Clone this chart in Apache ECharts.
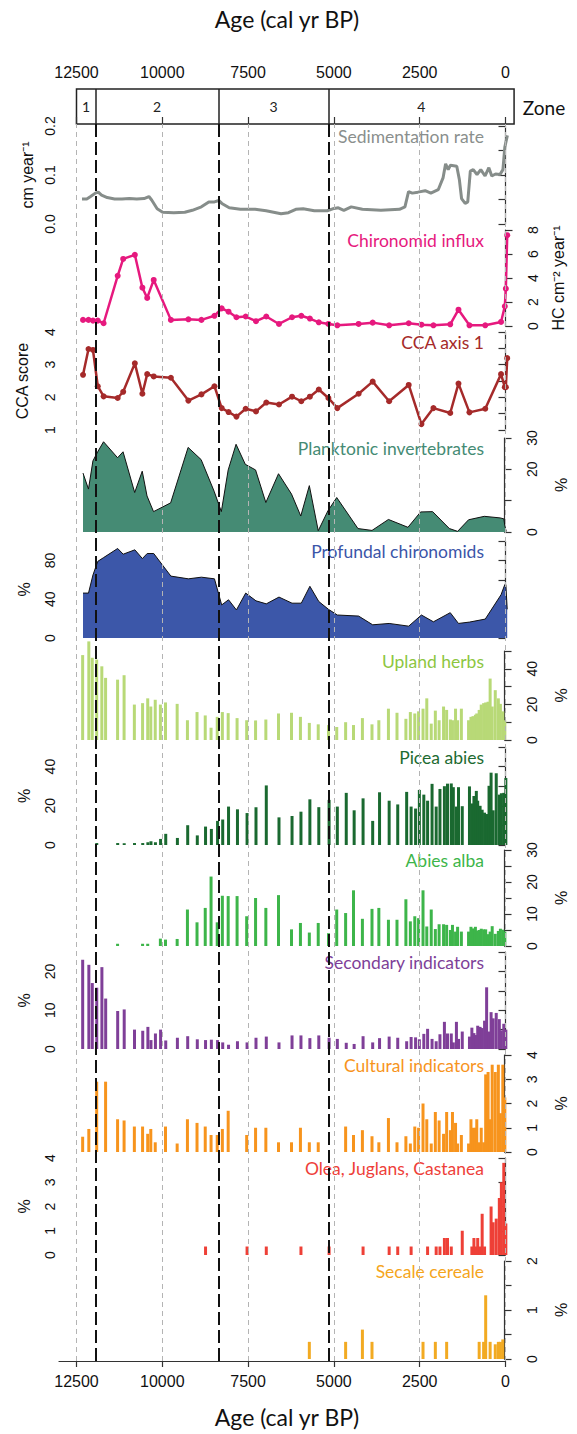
<!DOCTYPE html>
<html>
<head>
<meta charset="utf-8">
<script src="https://cdn.jsdelivr.net/npm/echarts@6/dist/echarts.min.js"></script>
<style>
html, body { margin: 0; padding: 0; background: #fff; }
#chart { width: 577px; height: 1434px; }
</style>
</head>
<body>
<div id="chart"></div>
<script>
// ---------- data ----------
// Sedimentation rate (cm/yr) through the core
const sedAges = [12340, 12200, 12090, 11950, 11865, 11770, 11605, 11390, 11175, 10960, 10745, 10530, 10390, 10310, 10150, 9990, 9665, 9345, 9125, 8860, 8645, 8480, 8350, 8265, 8050, 7725, 7295, 6975, 6540, 6325, 6110, 5895, 5570, 5195, 5035, 4870, 4710, 4495, 4170, 3630, 3090, 2930, 2825, 2715, 2555, 2340, 2175, 1960, 1820, 1745, 1670, 1605, 1420, 1345, 1280, 1175, 1100, 1025, 940, 830, 720, 595, 485, 400, 290, 160, 75, 20, -55];
const sedRate = [0.051, 0.051, 0.056, 0.063, 0.065, 0.059, 0.054, 0.051, 0.051, 0.052, 0.051, 0.052, 0.056, 0.049, 0.031, 0.024, 0.023, 0.024, 0.028, 0.035, 0.045, 0.045, 0.048, 0.042, 0.033, 0.030, 0.030, 0.027, 0.021, 0.023, 0.030, 0.031, 0.027, 0.027, 0.031, 0.033, 0.028, 0.035, 0.030, 0.028, 0.030, 0.035, 0.066, 0.063, 0.065, 0.068, 0.063, 0.070, 0.094, 0.123, 0.111, 0.120, 0.118, 0.091, 0.052, 0.042, 0.045, 0.108, 0.111, 0.101, 0.111, 0.098, 0.115, 0.098, 0.102, 0.101, 0.111, 0.157, 0.181];

// Chironomid samples
const chiroAges = [12310, 12150, 12020, 11880, 11710, 11300, 11140, 10800, 10580, 10440, 10250, 9750, 9240, 8860, 8480, 8270, 8070, 7840, 7570, 7270, 6970, 6600, 6220, 5950, 5700, 5440, 5160, 4900, 4280, 3870, 3390, 2820, 2450, 2100, 1610, 1370, 1050, 590, 130, 20, -10, -50];
const chiroInflux = [0.51, 0.51, 0.45, 0.45, 0.23, 4.18, 5.59, 5.93, 3.19, 2.34, 3.84, 0.51, 0.56, 0.51, 0.85, 1.47, 1.19, 0.73, 0.79, 0.40, 0.79, 0.17, 0.73, 0.85, 0.62, 0.31, 0.17, 0.06, 0.17, 0.28, 0.06, 0.23, 0.11, 0.06, 0.14, 1.36, 0.06, 0.06, 0.34, 1.64, 3.11, 7.57];
const ccaAxis1 = [2.69, 3.48, 3.45, 2.34, 2.03, 1.98, 2.17, 3.04, 2.11, 2.71, 2.64, 2.60, 1.90, 2.09, 2.34, 1.67, 1.55, 1.41, 1.65, 1.57, 1.84, 1.78, 2.02, 1.88, 2.02, 2.24, 1.98, 1.67, 2.11, 2.48, 1.88, 2.38, 1.18, 1.67, 1.52, 2.42, 1.54, 1.65, 2.71, 2.31, 2.31, 3.20];
const planktonic = [18.8, 13.7, 22.7, 25.6, 28.8, 23.7, 25.6, 12.6, 19.4, 11.5, 6.5, 9.3, 27.0, 23.1, 13.0, 6.5, 19.8, 28.0, 21.6, 19.8, 9.4, 18.6, 12.1, 5.1, 14.8, 0.4, 6.7, 11.0, 1.1, 0.5, 4.0, 1.5, 6.4, 6.5, 1.1, 0.2, 3.9, 5.0, 4.5, 4.2, 2.0, 0.2];
const profundal = [46.3, 46.3, 65.0, 79.0, 82.9, 92.3, 86.4, 90.9, 81.9, 87.1, 87.1, 63.8, 61.0, 62.7, 61.0, 34.1, 39.4, 28.9, 46.3, 38.3, 35.2, 42.2, 35.9, 35.9, 53.3, 37.6, 29.6, 23.7, 22.6, 13.6, 15.0, 12.2, 23.7, 16.7, 26.1, 15.0, 16.4, 19.5, 44.6, 55.1, 55.1, 29.6];

// Pollen samples
const pollenAges = [12320, 12140, 12040, 11910, 11760, 11650, 11300, 11110, 10810, 10570, 10420, 10330, 10200, 10050, 9900, 9560, 9260, 8980, 8740, 8570, 8390, 8240, 8070, 7810, 7530, 7270, 6970, 6600, 6220, 5960, 5700, 5440, 5140, 4900, 4640, 4410, 4150, 3870, 3670, 3390, 3140, 2880, 2750, 2620, 2510, 2380, 2270, 2140, 2020, 1910, 1780, 1690, 1580, 1520, 1430, 1370, 1260, 1050, 980, 920, 850, 810, 740, 680, 610, 550, 480, 420, 360, 270, 180, 120, 50, -10];
const uplandHerbs = [47.7, 55.4, 46.2, 45.2, 41.4, 34.9, 33.9, 36.4, 19.9, 20.7, 23.4, 18.8, 22.6, 19.9, 21.1, 20.3, 11.1, 15.7, 13.8, 6.9, 13.0, 15.7, 15.1, 12.3, 11.1, 11.0, 11.5, 14.9, 15.3, 13.0, 9.6, 8.8, 8.4, 7.3, 10.0, 8.4, 12.3, 8.8, 11.1, 17.6, 15.3, 11.9, 15.7, 14.9, 16.1, 17.6, 23.4, 9.2, 16.5, 11.1, 18.8, 16.9, 11.5, 11.1, 17.6, 11.1, 17.6, 11.1, 13.0, 13.4, 14.2, 14.9, 16.9, 19.9, 20.7, 21.1, 21.5, 34.5, 18.8, 28.0, 23.4, 20.3, 16.1, 11.1];
const piceaAbies = [0, 0, 0, 1.0, 0, 0, 1.0, 0.9, 1.0, 1.0, 1.4, 1.9, 1.4, 3.1, 5.7, 3.6, 10.1, 4.9, 9.4, 8.2, 12.3, 13.0, 19.6, 18.2, 16.3, 19.3, 30.4, 14.1, 14.8, 17.0, 23.3, 19.3, 23.0, 19.6, 26.6, 17.7, 23.8, 12.3, 26.9, 22.6, 20.7, 27.1, 19.6, 18.6, 28.1, 25.7, 22.6, 31.2, 19.6, 28.6, 30.0, 31.3, 31.4, 29.5, 19.6, 29.5, 19.8, 29.9, 21.2, 25.0, 27.6, 22.6, 20.0, 18.0, 16.5, 15.8, 30.2, 36.9, 17.7, 36.6, 25.7, 26.4, 26.6, 34.2];
const abiesAlba = [0, 0, 0, 0, 0, 0, 0.7, 0, 0, 0.7, 0.7, 0, 0, 2.3, 2.0, 2.2, 11.4, 7.4, 11.9, 21.7, 7.4, 15.7, 15.6, 15.6, 9.3, 15.0, 11.9, 15.9, 5.2, 7.2, 4.2, 7.2, 4.0, 11.4, 10.3, 17.4, 8.5, 11.6, 11.9, 8.2, 8.2, 14.6, 7.7, 9.3, 8.7, 17.4, 6.1, 11.4, 5.3, 6.8, 6.8, 6.6, 5.0, 6.6, 4.5, 6.0, 4.5, 4.5, 6.0, 5.5, 6.0, 4.8, 5.0, 5.4, 5.2, 5.2, 3.7, 4.5, 6.2, 3.8, 4.7, 5.4, 5.1, 4.5];
const secondaryInd = [23.0, 21.7, 17.0, 15.8, 21.1, 13.0, 9.8, 10.2, 5.0, 4.7, 5.7, 2.3, 4.0, 5.0, 2.2, 2.9, 3.3, 2.5, 2.3, 2.4, 2.3, 1.7, 1.1, 2.0, 1.7, 2.9, 3.2, 1.7, 3.5, 3.5, 2.8, 3.5, 2.9, 2.6, 1.6, 1.3, 3.3, 1.7, 2.8, 3.2, 2.9, 2.0, 3.1, 3.0, 2.5, 3.9, 5.2, 2.6, 2.0, 3.8, 7.0, 4.0, 4.0, 1.7, 7.0, 2.6, 4.5, 3.2, 5.5, 4.1, 3.6, 6.0, 5.7, 5.4, 7.3, 15.9, 4.5, 9.5, 7.9, 9.3, 7.7, 4.8, 6.5, 5.0];
const culturalInd = [0.63, 0.95, 0, 2.9, 0, 2.9, 1.35, 1.3, 1.05, 1.05, 0.75, 0.95, 0.4, 0, 1.05, 0.35, 1.35, 1.2, 1.05, 0.7, 0.7, 0.95, 1.7, 0, 0.7, 1.0, 1.0, 0.4, 0.4, 1.0, 0.4, 0.4, 0, 0, 1.05, 0.7, 0.9, 0.65, 0.4, 1.4, 0.4, 0.65, 0.35, 1.05, 1.0, 2.0, 1.35, 0.35, 1.65, 1.3, 0.75, 1.65, 0.9, 1.65, 1.2, 0.35, 0.7, 0.35, 1.35, 1.0, 1.0, 1.35, 0.4, 1.0, 0.4, 3.2, 3.3, 1.35, 3.6, 3.3, 3.6, 1.6, 3.6, 2.25];
const oleaJuglansCastanea = [0, 0, 0, 0, 0, 0, 0, 0, 0, 0, 0, 0, 0, 0, 0, 0, 0, 0, 0.35, 0, 0, 0, 0, 0, 0.35, 0, 0.35, 0, 0, 0.35, 0, 0, 0.35, 0, 0, 0, 0.35, 0, 0, 0.35, 0.35, 0, 0.35, 0, 0, 0, 0.35, 0, 0.35, 0.35, 0.7, 0.7, 0.35, 0, 0, 0, 1.0, 0, 0.35, 0.7, 0.35, 0.7, 0.35, 1.7, 0.35, 0, 0, 2.0, 1.35, 1.5, 2.35, 3.0, 3.8, 1.3];
const secaleCereale = [0, 0, 0, 0, 0, 0, 0, 0, 0, 0, 0, 0, 0, 0, 0, 0, 0, 0, 0, 0, 0, 0, 0, 0, 0, 0, 0, 0, 0, 0, 0.35, 0, 0, 0, 0.35, 0, 0.6, 0.35, 0, 0, 0, 0, 0, 0, 0, 0.35, 0, 0, 0.35, 0, 0, 0.35, 0, 0, 0, 0, 0, 0, 0, 0, 0, 0, 0.35, 0, 0.35, 1.3, 0, 0.35, 0, 0.3, 0.35, 0.35, 0.4, 0];

// Zones and reference ages
const zoneNames = ['1', '2', '3', '4'];
const zoneBounds = [12500, 11950, 8360, 5160, -250];
const ageTicks = [0, 2500, 5000, 7500, 10000, 12500];

// ---------- layout ----------
const W = 577, H = 1434;
const PX_PER_YEAR = 429 / 12500;
const AGE0_X = 505.5;
const ageX = a => AGE0_X - a * PX_PER_YEAR;
const PANEL_MIN = -150, PANEL_MAX = 12650;
const panelLeft = ageX(PANEL_MAX);
const panelRightEdge = ageX(PANEL_MIN);
const LEFT_AXIS_X = 70.4, RIGHT_AXIS_X = 513;
const AXIS_COLOR = '#333';
const TEXT_COLOR = '#111';
const TICK_FONT = 'Liberation Sans';
const LABEL_FONT = 'Lato';

const zipAll = (xs, ys) => xs.map((x, i) => [x, ys[i]]);

const panels = [
  { title: 'Sedimentation rate', color: '#8a8f8d', top: 126, bottom: 224, side: 'left', min: 0, max: 0.2, step: 0.05, labels: [0, 0.1, 0.2], digits: 1, name: 'cm year\u207B\u00B9', nameGap: 32,
    series: { type: 'line', data: zipAll(sedAges, sedRate), symbol: 'none', lineStyle: { color: '#868d8a', width: 3 } } },
  { title: 'Chironomid influx', color: '#e6197e', top: 230, bottom: 326, side: 'right', min: 0, max: 8, step: 2, labels: [0, 2, 4, 6, 8], digits: 0, name: 'HC cm\u207B\u00B2 year\u207B\u00B9', nameGap: 37,
    series: { type: 'line', data: zipAll(chiroAges, chiroInflux), symbol: 'circle', symbolSize: 6, itemStyle: { color: '#e6197e' }, lineStyle: { color: '#e6197e', width: 2.5 } } },
  { title: 'CCA axis 1', color: '#a52a2a', top: 332, bottom: 430, side: 'left', min: 1, max: 4, step: 0.5, labels: [1, 2, 3, 4], digits: 0, name: 'CCA score', nameGap: 40,
    series: { type: 'line', data: zipAll(chiroAges, ccaAxis1), symbol: 'circle', symbolSize: 6, itemStyle: { color: '#a52a2a' }, lineStyle: { color: '#a52a2a', width: 2.5 } } },
  { title: 'Planktonic invertebrates', color: '#458b74', top: 438, bottom: 532, side: 'right', min: 0, max: 30, step: 10, labels: [0, 20, 30], digits: 0, name: '%', nameGap: 41,
    series: { type: 'line', data: zipAll(chiroAges, planktonic), symbol: 'none', lineStyle: { color: '#111', width: 1 }, areaStyle: { color: '#458b74', opacity: 1 } } },
  { title: 'Profundal chironomids', color: '#3b55a8', top: 541, bottom: 638, side: 'left', min: 0, max: 100, step: 20, labels: [0, 40, 80], digits: 0, name: '%', nameGap: 38,
    series: { type: 'line', data: zipAll(chiroAges, profundal), symbol: 'none', lineStyle: { color: '#111', width: 1 }, areaStyle: { color: '#3c57a9', opacity: 1 } } },
  { title: 'Upland herbs', color: '#8dc63f', top: 651, bottom: 740, side: 'right', min: 0, max: 50, step: 10, labels: [0, 20, 40], digits: 0, name: '%', nameGap: 41,
    bars: uplandHerbs, barColor: '#b8d977' },
  { title: 'Picea abies', color: '#1d6b31', top: 747, bottom: 845, side: 'left', min: 0, max: 50, step: 10, labels: [0, 20, 40], digits: 0, name: '%', nameGap: 38,
    bars: piceaAbies, barColor: '#1a6930' },
  { title: 'Abies alba', color: '#3db54a', top: 850, bottom: 946, side: 'right', min: 0, max: 30, step: 5, labels: [0, 10, 20, 30], digits: 0, name: '%', nameGap: 41,
    bars: abiesAlba, barColor: '#3db54a' },
  { title: 'Secondary indicators', color: '#7e3f98', top: 952, bottom: 1049, side: 'left', min: 0, max: 25, step: 5, labels: [0, 10, 20], digits: 0, name: '%', nameGap: 38,
    bars: secondaryInd, barColor: '#7f3f98' },
  { title: 'Cultural indicators', color: '#f7941d', top: 1055, bottom: 1152, side: 'right', min: 0, max: 4, step: 1, labels: [0, 1, 2, 3, 4], digits: 0, name: '%', nameGap: 41,
    bars: culturalInd, barColor: '#f7941d' },
  { title: 'Olea, Juglans, Castanea', color: '#ee3f3a', top: 1158, bottom: 1255, side: 'left', min: 0, max: 4, step: 1, labels: [0, 1, 2, 3, 4], digits: 0, name: '%', nameGap: 38,
    bars: oleaJuglansCastanea, barColor: '#ee4037' },
  { title: 'Secale cereale', color: '#f5a51c', top: 1261, bottom: 1359, side: 'right', min: 0, max: 2, step: 0.5, labels: [0, 1, 2], digits: 0, name: '%', nameGap: 41,
    bars: secaleCereale, barColor: '#f2aa22' }
];

const grids = [], xAxes = [], yAxes = [], series = [], graphic = [];

panels.forEach((p, i) => {
  grids.push({ left: panelLeft, width: panelRightEdge - panelLeft, top: p.top, height: p.bottom - p.top, show: false });
  xAxes.push({ gridIndex: i, type: 'value', min: PANEL_MIN, max: PANEL_MAX, inverse: true, show: false });
  const isLeft = p.side === 'left';
  yAxes.push({
    gridIndex: i, type: 'value', position: p.side,
    offset: isLeft ? panelLeft - LEFT_AXIS_X : RIGHT_AXIS_X - panelRightEdge,
    min: p.min, max: p.max, interval: p.step,
    axisLine: { show: true, lineStyle: { color: AXIS_COLOR, width: 1.2 } },
    axisTick: { show: true, length: 7, lineStyle: { color: AXIS_COLOR, width: 1.2 } },
    axisLabel: {
      rotate: 90, margin: 13, fontSize: 14, fontFamily: TICK_FONT, color: TEXT_COLOR,
      formatter: v => p.labels.some(t => Math.abs(t - v) < 1e-9) ? v.toFixed(p.digits) : ''
    },
    splitLine: { show: false },
    name: p.name, nameLocation: 'middle', nameGap: p.nameGap,
    nameTextStyle: { fontSize: 16, fontFamily: TICK_FONT, color: TEXT_COLOR }
  });
  if (p.series) {
    series.push(Object.assign({ xAxisIndex: i, yAxisIndex: i, silent: true, z: 3 }, p.series));
  } else {
    series.push({
      type: 'bar', xAxisIndex: i, yAxisIndex: i, silent: true, clip: false, barWidth: 3, z: 3,
      itemStyle: { color: p.barColor },
      data: zipAll(pollenAges, p.bars).filter(d => d[1] > 0)
    });
  }
  graphic.push({
    type: 'text', x: 484, y: p.top + 10, silent: true,
    style: { text: p.title, fill: p.color, fontSize: 17.5, fontFamily: LABEL_FONT,
             textAlign: 'right', align: 'right', textVerticalAlign: 'middle', verticalAlign: 'middle' }
  });
});

const plainAge = v => String(v);

// Full-height overlay: reference ages (grey) and zone boundaries (black), plus the bottom age axis
const OV = panels.length;
const ovLeft = 59;
grids.push({ left: ovLeft, right: W - AGE0_X, top: 124, bottom: H - 1361, show: false });
xAxes.push({
  gridIndex: OV, type: 'value', position: 'bottom', inverse: true,
  min: 0, max: (AGE0_X - ovLeft) / PX_PER_YEAR,
  axisLine: { show: true, lineStyle: { color: AXIS_COLOR, width: 1.2 } },
  axisTick: { show: true, length: 6, customValues: ageTicks, lineStyle: { color: AXIS_COLOR, width: 1.2 } },
  axisLabel: { customValues: ageTicks, formatter: plainAge, fontSize: 16, margin: 12, fontFamily: TICK_FONT, color: TEXT_COLOR },
  splitLine: { show: false }
});
yAxes.push({ gridIndex: OV, type: 'value', min: 0, max: 1, show: false });
series.push({
  type: 'line', xAxisIndex: OV, yAxisIndex: OV, data: [[0, -1]], symbol: 'none', silent: true, z: 10,
  lineStyle: { width: 0 },
  markLine: {
    silent: true, symbol: ['none', 'none'], label: { show: false }, animation: false,
    lineStyle: { color: '#b4b4b4', width: 1, type: [5, 4] },
    data: ageTicks.map(a => ({ xAxis: a }))
  }
});
series.push({
  type: 'line', xAxisIndex: OV, yAxisIndex: OV, data: [[0, -1]], symbol: 'none', silent: true, z: 11,
  lineStyle: { width: 0 },
  markLine: {
    silent: true, symbol: ['none', 'none'], label: { show: false }, animation: false,
    lineStyle: { color: '#111', width: 2, type: [13, 5] },
    data: zoneBounds.slice(1, -1).map(a => ({ xAxis: a }))
  }
});

// Zone box with the top age axis
const ZN = OV + 1;
grids.push({ left: ageX(12500), right: W - ageX(zoneBounds[zoneBounds.length - 1]), top: 89, height: 35,
             show: true, borderColor: '#222', borderWidth: 1.5, backgroundColor: 'transparent' });
xAxes.push({
  gridIndex: ZN, type: 'value', position: 'top', inverse: true,
  min: zoneBounds[zoneBounds.length - 1], max: 12500,
  axisLine: { show: false },
  axisTick: { show: true, length: 7, customValues: ageTicks, lineStyle: { color: AXIS_COLOR, width: 1.2 } },
  axisLabel: { customValues: ageTicks, formatter: plainAge, fontSize: 16, margin: 9, fontFamily: TICK_FONT, color: TEXT_COLOR },
  splitLine: { show: false }
});
yAxes.push({ gridIndex: ZN, type: 'value', min: 0, max: 1, show: false });
series.push({
  type: 'line', xAxisIndex: ZN, yAxisIndex: ZN, data: [[0, -1]], symbol: 'none', silent: true,
  lineStyle: { width: 0 },
  markLine: {
    silent: true, symbol: ['none', 'none'], label: { show: false }, animation: false,
    lineStyle: { color: '#222', width: 1.5, type: 'solid' },
    data: zoneBounds.slice(1, -1).map(a => ({ xAxis: a }))
  },
  markArea: {
    silent: true, animation: false,
    itemStyle: { color: 'rgba(0,0,0,0)' },
    label: { show: true, position: 'inside', color: '#222', fontSize: 14, fontFamily: LABEL_FONT },
    data: zoneNames.map((n, k) => [{ name: n, xAxis: zoneBounds[k] }, { xAxis: zoneBounds[k + 1] }])
  }
});

graphic.push({
  type: 'text', x: 544, y: 107, silent: true,
  style: { text: 'Zone', fill: TEXT_COLOR, fontSize: 19, fontFamily: LABEL_FONT,
           textAlign: 'center', align: 'center', textVerticalAlign: 'middle', verticalAlign: 'middle' }
});
['top', 'bottom'].forEach(pos => {
  graphic.push({
    type: 'text', x: 287, y: pos === 'top' ? 19 : 1417, silent: true,
    style: { text: 'Age (cal yr BP)', fill: TEXT_COLOR, fontSize: 23, fontFamily: LABEL_FONT,
             textAlign: 'center', align: 'center', textVerticalAlign: 'middle', verticalAlign: 'middle' }
  });
});

const chart = echarts.init(document.getElementById('chart'), null, { renderer: 'svg', width: W, height: H });
chart.setOption({
  animation: false,
  backgroundColor: '#ffffff',
  grid: grids,
  xAxis: xAxes,
  yAxis: yAxes,
  series: series,
  graphic: graphic
});
</script>
</body>
</html>
